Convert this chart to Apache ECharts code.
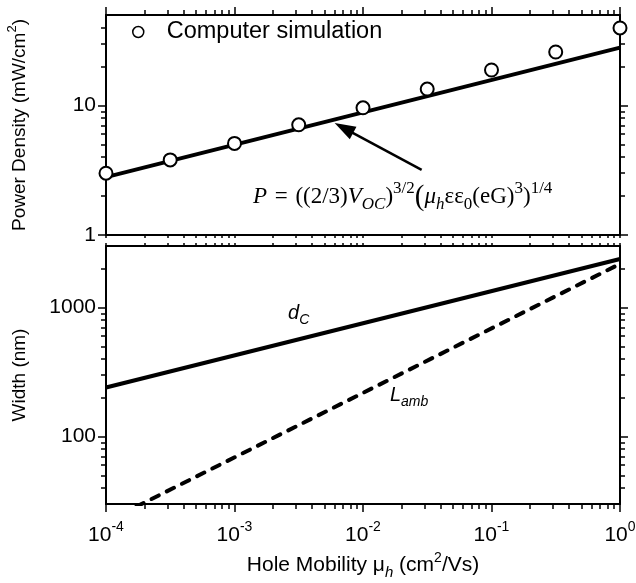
<!DOCTYPE html>
<html>
<head>
<meta charset="utf-8">
<script src="https://cdn.jsdelivr.net/npm/echarts@6/dist/echarts.min.js"></script>
<style>
  html, body { margin: 0; padding: 0; background: #fff; }
  #chart { width: 636px; height: 583px; }
</style>
</head>
<body>
<div id="chart"></div>
<script>
// Hole mobility of the simulated devices (cm^2/Vs), half-decade steps
const mobility = [1e-4, 3.16e-4, 1e-3, 3.16e-3, 1e-2, 3.16e-2, 1e-1, 3.16e-1, 1];
// Power density from the computer simulation (mW/cm^2)
const simPower = [3.0, 3.8, 5.1, 7.1, 9.6, 13.4, 18.8, 25.9, 39.7];
// Analytic power-density expression, end points of the straight log-log line
const modelMobility = [1e-4, 1];
const modelPower = [2.8, 28];
// Collection width d_C and ambipolar length L_amb (nm)
const widthMobility = [1e-4, 1];
const dC = [240, 2380];
const lAmb = [21.8, 2180];

// Axis ranges and decade ticks
const X_RANGE = [1e-4, 1];
const POWER_RANGE = [1, 50];
const WIDTH_RANGE = [30, 3000];
const xDecades = [1e-4, 1e-3, 1e-2, 1e-1, 1];
const powerDecades = [1, 10];
const widthDecades = [100, 1000];

// minor ticks 2..9 × each decade, kept within the axis range
function minorTicks(decades, lo, hi) {
  const out = [];
  const all = [decades[0] / 10].concat(decades);
  all.forEach(d => {
    for (let k = 2; k <= 9; k++) {
      const v = k * d;
      if (v > lo * 1.0001 && v < hi * 0.9999) out.push(v);
    }
  });
  return out;
}

const FONT = '"Liberation Sans", Arial, Helvetica, sans-serif';
const SERIF = '"Liberation Serif", "Times New Roman", Times, serif';
const BLACK = '#000';

const xMinor = minorTicks(xDecades, X_RANGE[0], X_RANGE[1]);
const powerMinor = minorTicks(powerDecades, POWER_RANGE[0], POWER_RANGE[1]);
const widthMinor = minorTicks(widthDecades, WIDTH_RANGE[0], WIDTH_RANGE[1]);

function pairs(xs, ys) { return xs.map((x, i) => [x, ys[i]]); }

function logAxis(opts) {
  return {
    type: 'log',
    logBase: 10,
    gridIndex: opts.grid,
    position: opts.position,
    min: opts.range[0],
    max: opts.range[1],
    axisLine: { show: !!opts.line, onZero: false, lineStyle: { color: BLACK, width: 2 } },
    axisTick: {
      show: true,
      customValues: opts.ticks,
      length: opts.len,
      inside: false,
      lineStyle: { color: BLACK, width: 1.5 }
    },
    axisLabel: opts.label || { show: false },
    splitLine: { show: false },
    minorTick: { show: false },
    name: opts.name || '',
    nameLocation: 'middle',
    nameGap: opts.nameGap || 0,
    nameTextStyle: opts.nameStyle || {}
  };
}

const yLabel = (values) => ({
  show: true,
  customValues: values,
  margin: 10,
  color: BLACK,
  fontFamily: FONT,
  fontSize: 21,
  formatter: v => String(Math.round(v))
});

const xLabel = {
  show: true,
  customValues: xDecades,
  margin: 16,
  formatter: v => '{b|10}{s|' + Math.round(Math.log10(v)) + '}',
  rich: {
    b: { fontFamily: FONT, fontSize: 21, color: BLACK, lineHeight: 30 },
    s: { fontFamily: FONT, fontSize: 14, color: BLACK, lineHeight: 15, verticalAlign: 'top' }
  }
};

const nameRich = (size) => ({
  n: { fontFamily: FONT, fontSize: size, color: BLACK, lineHeight: size + 8 },
  sup: { fontFamily: FONT, fontSize: Math.round(size * 0.68), color: BLACK, lineHeight: 12, verticalAlign: 'top' },
  sub: { fontFamily: FONT, fontSize: Math.round(size * 0.72), fontStyle: 'italic', color: BLACK, lineHeight: 13, verticalAlign: 'bottom' }
});

const option = {
  animation: false,
  backgroundColor: '#fff',
  grid: [
    { left: 106, right: 16, top: 15, height: 220, containLabel: false, outerBoundsMode: 'none' },
    { left: 106, right: 16, top: 246, height: 258, containLabel: false, outerBoundsMode: 'none' }
  ],
  legend: {
    data: ['Computer simulation'],
    left: 132,
    top: 20,
    padding: 0,
    itemWidth: 11,
    itemHeight: 11,
    itemStyle: { color: '#fff', borderColor: BLACK, borderWidth: 1.5 },
    textStyle: { fontFamily: FONT, fontSize: 23.5, color: BLACK, padding: [0, 0, 0, 18] }
  },
  xAxis: [
    // power panel
    logAxis({ grid: 0, position: 'bottom', range: X_RANGE, ticks: xDecades.concat(xMinor), len: 3, line: true }),
    logAxis({ grid: 0, position: 'top', range: X_RANGE, ticks: xDecades, len: 8, line: true }),
    logAxis({ grid: 0, position: 'top', range: X_RANGE, ticks: xMinor, len: 5 }),
    // width panel
    logAxis({
      grid: 1, position: 'bottom', range: X_RANGE, ticks: xDecades, len: 8, line: true,
      label: xLabel,
      name: '{n|Hole Mobility μ}{sub|h}{n| (cm}{sup|2}{n|/Vs)}',
      nameGap: 47,
      nameStyle: { rich: nameRich(21) }
    }),
    logAxis({ grid: 1, position: 'bottom', range: X_RANGE, ticks: xMinor, len: 5 }),
    logAxis({ grid: 1, position: 'top', range: X_RANGE, ticks: xDecades.concat(xMinor), len: 3, line: true })
  ],
  yAxis: [
    // power panel
    logAxis({
      grid: 0, position: 'left', range: POWER_RANGE, ticks: powerDecades, len: 8, line: true,
      label: yLabel(powerDecades),
      name: '{n|Power Density (mW/cm}{sup|2}{n|)}',
      nameGap: 73,
      nameStyle: { rich: nameRich(19) }
    }),
    logAxis({ grid: 0, position: 'left', range: POWER_RANGE, ticks: powerMinor, len: 5 }),
    logAxis({ grid: 0, position: 'right', range: POWER_RANGE, ticks: powerDecades, len: 8, line: true }),
    logAxis({ grid: 0, position: 'right', range: POWER_RANGE, ticks: powerMinor, len: 5 }),
    // width panel
    logAxis({
      grid: 1, position: 'left', range: WIDTH_RANGE, ticks: widthDecades, len: 8, line: true,
      label: yLabel(widthDecades),
      name: '{n|Width (nm)}',
      nameGap: 73,
      nameStyle: { rich: nameRich(19) }
    }),
    logAxis({ grid: 1, position: 'left', range: WIDTH_RANGE, ticks: widthMinor, len: 5 }),
    logAxis({ grid: 1, position: 'right', range: WIDTH_RANGE, ticks: widthDecades, len: 8, line: true }),
    logAxis({ grid: 1, position: 'right', range: WIDTH_RANGE, ticks: widthMinor, len: 5 })
  ],
  series: [
    {
      name: 'Model',
      type: 'line',
      xAxisIndex: 0,
      yAxisIndex: 0,
      data: pairs(modelMobility, modelPower),
      symbol: 'none',
      lineStyle: { color: BLACK, width: 4 },
      z: 2,
      markLine: {
        silent: true,
        symbol: ['none', 'triangle'],
        symbolSize: [14, 21],
        lineStyle: { color: BLACK, width: 2.5, type: 'solid' },
        itemStyle: { color: BLACK },
        label: { show: false },
        data: [[{ coord: [0.0286, 3.18] }, { coord: [0.0071, 6.70] }]]
      }
    },
    {
      name: 'Computer simulation',
      type: 'scatter',
      xAxisIndex: 0,
      yAxisIndex: 0,
      data: pairs(mobility, simPower),
      symbol: 'circle',
      symbolSize: 13,
      itemStyle: { color: '#fff', borderColor: BLACK, borderWidth: 2, opacity: 1 },
      z: 3
    },
    {
      name: 'd_C',
      type: 'line',
      xAxisIndex: 3,
      yAxisIndex: 4,
      data: pairs(widthMobility, dC),
      symbol: 'none',
      lineStyle: { color: BLACK, width: 4 },
      z: 2
    },
    {
      name: 'L_amb',
      type: 'line',
      xAxisIndex: 3,
      yAxisIndex: 4,
      data: pairs(widthMobility, lAmb),
      symbol: 'none',
      lineStyle: { color: BLACK, width: 4, type: [8, 9], cap: 'round' },
      z: 2
    }
  ]
};

const chart = echarts.init(document.getElementById('chart'), null, { renderer: 'canvas' });
chart.setOption(option);

// Text annotations, anchored in data coordinates of each panel
const toPx = (seriesIndex, x, y) => chart.convertToPixel({ seriesIndex }, [x, y]);

const formulaAt = toPx(0, 0.00139, 1.965);
const dCAt = toPx(2, 0.00261, 894);
const lAmbAt = toPx(2, 0.0162, 207);

const formulaRich = {
  i: { fontFamily: SERIF, fontSize: 23, fontStyle: 'italic', lineHeight: 33, fill: BLACK },
  n: { fontFamily: SERIF, fontSize: 23, lineHeight: 33, fill: BLACK },
  eq: { fontFamily: SERIF, fontSize: 23, lineHeight: 33, fill: BLACK, padding: [0, 2, 0, 2] },
  big: { fontFamily: SERIF, fontSize: 29, lineHeight: 33, fill: BLACK },
  isub: { fontFamily: SERIF, fontSize: 17, fontStyle: 'italic', lineHeight: 17, verticalAlign: 'bottom', fill: BLACK },
  nsub: { fontFamily: SERIF, fontSize: 17, lineHeight: 17, verticalAlign: 'bottom', fill: BLACK },
  sup: { fontFamily: SERIF, fontSize: 17, lineHeight: 17, verticalAlign: 'top', fill: BLACK }
};

const labelRich = {
  i: { fontFamily: FONT, fontSize: 20, fontStyle: 'italic', lineHeight: 26, fill: BLACK },
  s: { fontFamily: FONT, fontSize: 14, fontStyle: 'italic', lineHeight: 14, verticalAlign: 'bottom', fill: BLACK }
};

chart.setOption({
  graphic: [
    {
      type: 'text',
      z: 10,
      style: {
        x: formulaAt[0], y: formulaAt[1],
        text: '{i|P}{eq| = }{n|((2/3)}{i|V}{isub|OC}{n|)}{sup|3/2}{big|(}{i|μ}{isub|h}{n|εε}{nsub|0}{n|(eG)}{sup|3}{n|)}{sup|1/4}',
        rich: formulaRich,
        align: 'left',
        verticalAlign: 'middle',
        fill: BLACK
      }
    },
    {
      type: 'text',
      z: 10,
      style: {
        x: dCAt[0], y: dCAt[1],
        text: '{i|d}{s|C}',
        rich: labelRich,
        align: 'left',
        verticalAlign: 'middle',
        fill: BLACK
      }
    },
    {
      type: 'text',
      z: 10,
      style: {
        x: lAmbAt[0], y: lAmbAt[1],
        text: '{i|L}{s|amb}',
        rich: labelRich,
        align: 'left',
        verticalAlign: 'middle',
        fill: BLACK
      }
    }
  ]
});
</script>
</body>
</html>
